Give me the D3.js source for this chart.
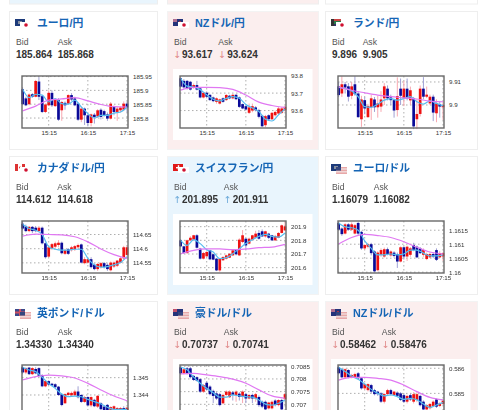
<!DOCTYPE html>
<html><head><meta charset="utf-8">
<script src="https://cdn.jsdelivr.net/npm/d3@7/dist/d3.min.js"></script>
<style>html,body{margin:0;padding:0;background:#fff;overflow:hidden}svg{display:block;filter:blur(0.3px)}
text{font-family:"Liberation Sans",Arial,sans-serif}
.title{font-family:"Liberation Sans","Noto Sans CJK JP",sans-serif;font-size:10.8px;font-weight:700;fill:#1565b5}
.lbl{font-size:8.6px;fill:#555}.val{font-size:10px;font-weight:700;fill:#333}
.tick text{font-size:6.2px;fill:#333;font-family:"Liberation Sans",Arial,sans-serif}
</style></head><body><svg id="c" width="480" height="410"></svg>
<script>
const pairs=["ユーロ/円","NZドル/円","ランド/円","カナダドル/円","スイスフラン/円","ユーロ/ドル","英ポンド/ドル","豪ドル/ドル","NZドル/ドル"];
const bids=["185.864","93.617","9.896","114.612","201.895","1.16079","1.34330","0.70737","0.58462"];
const asks=["185.868","93.624","9.905","114.618","201.911","1.16082","1.34340","0.70741","0.58476"];
const trends=["","down","","","up","","","down","down"];
const timeLabels=["15:15","16:15","17:15"];
const timeIdx=[8,20,32];
const domains=[[185.764,185.952],[93.5,93.798],[9.89,9.9126],[114.5143,114.6976],[201.561,201.9415],[1.15997,1.16183],[1.34273,1.34573],[0.7065,0.70855],[0.58406,0.58613]];
const ticks=[[185.95,185.9,185.85,185.8],[93.8,93.7,93.6],[9.91,9.9],[114.65,114.6,114.55],[201.9,201.8,201.7,201.6],[1.1615,1.161,1.1605,1.16],[1.345,1.344],[0.7085,0.708,0.7075,0.707],[0.586,0.585]];
const tickFmt=[".2~f",".1~f",".2~f",".2~f",".1~f",".4~f",".3~f",".4~f",".3~f"];
// candles: [open, close, high, low]
const c0=[[185.904,185.85,185.911,185.846],[185.871,185.846,185.877,185.843],[185.85,185.885,185.889,185.846],[185.886,185.877,185.89,185.873],[185.877,185.934,185.938,185.875],[185.932,185.877,185.948,185.865],[185.879,185.822,185.884,185.818],[185.822,185.849,185.853,185.818],[185.846,185.891,185.9,185.843],[185.891,185.846,185.9,185.84],[185.843,185.867,185.872,185.84],[185.865,185.794,185.872,185.79],[185.828,185.858,185.862,185.79],[185.855,185.846,185.86,185.83],[185.852,185.883,185.886,185.848],[185.883,185.867,185.89,185.862],[185.871,185.846,185.877,185.843],[185.852,185.794,185.857,185.79],[185.794,185.834,185.84,185.785],[185.834,185.81,185.838,185.775],[185.81,185.782,185.816,185.77],[185.782,185.813,185.816,185.77],[185.812,185.804,185.818,185.78],[185.806,185.828,185.832,185.8],[185.83,185.804,185.835,185.795],[185.825,185.81,185.83,185.805],[185.813,185.798,185.82,185.79],[185.798,185.852,185.858,185.795],[185.84,185.822,185.845,185.81],[185.822,185.834,185.84,185.79],[185.828,185.838,185.842,185.82],[185.83,185.852,185.86,185.825],[185.852,185.838,185.86,185.82]];
const c1=[[93.785,93.737,93.79,93.73],[93.77,93.733,93.78,93.725],[93.77,93.727,93.775,93.72],[93.765,93.72,93.77,93.715],[93.733,93.746,93.755,93.725],[93.746,93.72,93.77,93.715],[93.727,93.675,93.73,93.67],[93.675,93.702,93.706,93.67],[93.702,93.679,93.71,93.67],[93.69,93.66,93.695,93.655],[93.675,93.654,93.68,93.648],[93.65,93.67,93.675,93.64],[93.64,93.664,93.668,93.635],[93.67,93.65,93.675,93.645],[93.66,93.689,93.695,93.655],[93.685,93.67,93.69,93.665],[93.67,93.69,93.695,93.665],[93.69,93.665,93.695,93.66],[93.675,93.621,93.68,93.615],[93.637,93.612,93.64,93.608],[93.625,93.606,93.63,93.6],[93.587,93.618,93.64,93.58],[93.6,93.625,93.64,93.59],[93.618,93.602,93.625,93.595],[93.602,93.564,93.61,93.555],[93.57,93.51,93.575,93.505],[93.516,93.568,93.575,93.505],[93.573,93.55,93.578,93.54],[93.55,93.587,93.592,93.545],[93.573,93.592,93.6,93.565],[93.583,93.612,93.62,93.575],[93.587,93.612,93.62,93.58],[93.602,93.621,93.63,93.595]];
const c2=[[9.9081,9.9043,9.91,9.9035],[9.905,9.909,9.9125,9.9035],[9.909,9.9076,9.91,9.905],[9.9081,9.9036,9.9095,9.9015],[9.904,9.9081,9.91,9.9025],[9.909,9.9047,9.9125,9.904],[9.905,9.8947,9.906,9.8945],[9.8938,9.9024,9.904,9.8905],[9.9021,9.8985,9.9035,9.896],[9.8947,9.8996,9.9005,9.8945],[9.899,9.9029,9.9045,9.8935],[9.9024,9.899,9.9035,9.897],[9.899,9.9007,9.904,9.8945],[9.8993,9.9024,9.906,9.897],[9.9029,9.9081,9.9095,9.9],[9.9071,9.9029,9.9085,9.902],[9.9033,9.9021,9.9045,9.9],[9.9021,9.8976,9.9025,9.8945],[9.8978,9.9039,9.912,9.895],[9.9071,9.904,9.9115,9.9],[9.9029,9.9071,9.9105,9.8995],[9.9071,9.9029,9.9115,9.902],[9.902,9.9064,9.908,9.9],[9.9029,9.8907,9.9035,9.8895],[9.8938,9.8961,9.9025,9.8895],[9.8961,9.9071,9.9085,9.895],[9.9071,9.9036,9.9121,9.9025],[9.9036,9.9045,9.908,9.903],[9.9007,9.9036,9.9045,9.9],[9.9036,9.8967,9.9045,9.893],[9.8964,9.9007,9.9025,9.8925],[9.9004,9.8993,9.9015,9.8945],[9.899,9.9,9.9015,9.8935]];
const c3=[[114.688,114.671,114.695,114.665],[114.679,114.662,114.685,114.658],[114.662,114.677,114.68,114.658],[114.677,114.662,114.68,114.655],[114.674,114.662,114.68,114.658],[114.662,114.674,114.68,114.658],[114.674,114.619,114.678,114.615],[114.619,114.57,114.622,114.565],[114.572,114.605,114.608,114.568],[114.601,114.616,114.62,114.595],[114.607,114.619,114.625,114.6],[114.613,114.621,114.63,114.605],[114.621,114.584,114.625,114.58],[114.582,114.595,114.6,114.578],[114.598,114.582,114.602,114.578],[114.595,114.605,114.61,114.59],[114.598,114.609,114.613,114.592],[114.605,114.613,114.618,114.6],[114.615,114.551,114.618,114.548],[114.549,114.563,114.57,114.545],[114.551,114.563,114.568,114.548],[114.563,114.535,114.57,114.53],[114.543,114.528,114.548,114.524],[114.528,114.546,114.55,114.522],[114.535,114.549,114.553,114.53],[114.549,114.535,114.553,114.53],[114.543,114.528,114.548,114.522],[114.524,114.551,114.555,114.52],[114.537,114.551,114.555,114.532],[114.54,114.558,114.56,114.535],[114.551,114.566,114.57,114.548],[114.566,114.605,114.61,114.562],[114.578,114.605,114.612,114.575]];
const c4=[[201.8,201.756,201.81,201.75],[201.756,201.707,201.76,201.7],[201.707,201.8,201.805,201.7],[201.8,201.819,201.83,201.795],[201.805,201.837,201.84,201.8],[201.837,201.746,201.845,201.74],[201.739,201.666,201.745,201.66],[201.666,201.707,201.715,201.66],[201.683,201.715,201.72,201.68],[201.727,201.661,201.73,201.655],[201.698,201.659,201.7,201.655],[201.666,201.58,201.67,201.575],[201.58,201.666,201.67,201.57],[201.654,201.678,201.685,201.65],[201.666,201.69,201.695,201.66],[201.673,201.702,201.705,201.67],[201.69,201.727,201.73,201.685],[201.732,201.698,201.735,201.69],[201.69,201.805,201.815,201.685],[201.788,201.837,201.875,201.78],[201.812,201.763,201.815,201.73],[201.776,201.812,201.82,201.77],[201.805,201.837,201.84,201.8],[201.819,201.849,201.87,201.815],[201.854,201.812,201.875,201.805],[201.866,201.829,201.88,201.825],[201.829,201.866,201.87,201.82],[201.849,201.819,201.855,201.81],[201.837,201.8,201.84,201.795],[201.8,201.832,201.84,201.795],[201.819,201.854,201.86,201.815],[201.854,201.91,201.915,201.85],[201.873,201.902,201.94,201.87]];
const c5=[[1.16176,1.16152,1.1618,1.1615],[1.16156,1.16136,1.1616,1.1613],[1.16138,1.16171,1.16175,1.16135],[1.16171,1.16152,1.16175,1.16148],[1.16152,1.16171,1.16178,1.16148],[1.16138,1.16168,1.16172,1.16135],[1.16176,1.16138,1.1618,1.16132],[1.16144,1.16085,1.16148,1.1608],[1.16085,1.16097,1.161,1.1608],[1.16091,1.161,1.16105,1.16085],[1.161,1.16068,1.16105,1.1606],[1.16074,1.16003,1.16078,1.16],[1.16007,1.1607,1.16075,1.16003],[1.16062,1.16079,1.16085,1.16055],[1.16056,1.16082,1.16088,1.16052],[1.16082,1.16065,1.16088,1.1606],[1.1606,1.16074,1.16078,1.16055],[1.1607,1.16058,1.16075,1.16052],[1.16065,1.16038,1.1607,1.16015],[1.16038,1.16089,1.16092,1.16035],[1.16089,1.16056,1.16092,1.16045],[1.16056,1.16091,1.16095,1.1604],[1.16062,1.16085,1.1609,1.16055],[1.16097,1.16079,1.16105,1.16075],[1.16091,1.16053,1.16095,1.1605],[1.16085,1.16068,1.1609,1.16065],[1.16062,1.16079,1.16085,1.16055],[1.16047,1.16065,1.1607,1.16043],[1.16053,1.16065,1.1607,1.1605],[1.16065,1.16056,1.1607,1.1605],[1.16079,1.16044,1.16085,1.1604],[1.16053,1.16068,1.16075,1.1605],[1.16056,1.16068,1.16072,1.1604]];
const c6=[[1.3456,1.3453,1.3457,1.3452],[1.3453,1.34555,1.3456,1.3452],[1.34558,1.3452,1.3456,1.34515],[1.3452,1.34555,1.3456,1.34515],[1.3455,1.34525,1.3456,1.3452],[1.34555,1.3451,1.3456,1.34505],[1.34515,1.3445,1.3452,1.34445],[1.3445,1.3448,1.34485,1.34445],[1.3448,1.3446,1.34485,1.34455],[1.34465,1.34455,1.3447,1.3445],[1.34462,1.34445,1.34468,1.3444],[1.34448,1.344,1.34452,1.34395],[1.34405,1.34342,1.3441,1.34335],[1.34352,1.34405,1.3441,1.3435],[1.344,1.34413,1.34418,1.34395],[1.34398,1.34412,1.3442,1.3439],[1.34398,1.3442,1.3443,1.34395],[1.3442,1.34387,1.3445,1.3438],[1.344,1.3436,1.34405,1.34355],[1.3436,1.34388,1.34395,1.34355],[1.34388,1.3434,1.34392,1.34335],[1.3434,1.34388,1.34392,1.3433],[1.34372,1.34335,1.34378,1.3433],[1.34333,1.34395,1.344,1.34325],[1.34352,1.34318,1.34358,1.3431],[1.34333,1.34305,1.34338,1.343],[1.34343,1.34291,1.34348,1.34285],[1.34291,1.3433,1.34335,1.34285],[1.34315,1.34335,1.3434,1.3431],[1.34305,1.34325,1.3433,1.343],[1.3431,1.34325,1.3433,1.34305],[1.34325,1.34295,1.34335,1.3429],[1.34295,1.34327,1.3433,1.3429]];
const c7=[[0.70846,0.70822,0.7085,0.70818],[0.70822,0.70838,0.70842,0.70818],[0.70842,0.70822,0.70848,0.70818],[0.70842,0.70807,0.70848,0.70802],[0.70812,0.70796,0.70816,0.70792],[0.70807,0.70793,0.7081,0.7079],[0.70799,0.7075,0.70803,0.70745],[0.7075,0.70776,0.7078,0.70745],[0.70785,0.70759,0.7079,0.70755],[0.7077,0.7074,0.70775,0.70735],[0.70753,0.70733,0.70758,0.70705],[0.70743,0.70723,0.70748,0.70718],[0.7074,0.70697,0.70745,0.70692],[0.70704,0.70737,0.70742,0.707],[0.70737,0.7075,0.70755,0.70733],[0.70728,0.7075,0.70755,0.70725],[0.70747,0.70737,0.70752,0.70715],[0.70737,0.7075,0.70755,0.7071],[0.70742,0.70729,0.70748,0.70715],[0.70729,0.7075,0.70755,0.70705],[0.7074,0.70723,0.70745,0.70705],[0.70723,0.70737,0.7074,0.7072],[0.70737,0.70723,0.70742,0.70705],[0.70723,0.7074,0.70745,0.7071],[0.70729,0.70697,0.70735,0.7069],[0.7071,0.70691,0.70715,0.70685],[0.7071,0.7068,0.70715,0.70675],[0.70684,0.70707,0.7071,0.7068],[0.70684,0.7071,0.70715,0.7068],[0.70715,0.70697,0.7072,0.70692],[0.70697,0.70717,0.7072,0.70692],[0.70717,0.7068,0.70722,0.70675],[0.7072,0.7074,0.70745,0.70715]];
const c8=[[0.58604,0.5858,0.5861,0.58575],[0.58596,0.58564,0.586,0.5856],[0.58564,0.58596,0.586,0.5856],[0.58593,0.58564,0.58596,0.5856],[0.58564,0.58573,0.58578,0.5856],[0.58564,0.58577,0.58582,0.5856],[0.5858,0.5856,0.58585,0.58555],[0.5856,0.5852,0.58565,0.58515],[0.5852,0.58537,0.5854,0.58515],[0.58513,0.58537,0.5854,0.58508],[0.58533,0.58507,0.58538,0.585],[0.58513,0.58497,0.58518,0.58492],[0.58507,0.58497,0.5851,0.5849],[0.585,0.58467,0.58505,0.58462],[0.58467,0.58497,0.585,0.5846],[0.58497,0.58513,0.58518,0.58492],[0.58513,0.58497,0.58518,0.58492],[0.58493,0.58507,0.5851,0.5849],[0.58503,0.5849,0.58508,0.58485],[0.585,0.58474,0.58505,0.5847],[0.58493,0.58467,0.58498,0.58462],[0.58467,0.5849,0.58495,0.5846],[0.58493,0.58476,0.58498,0.5847],[0.58467,0.58497,0.58505,0.5846],[0.58474,0.58497,0.58505,0.58465],[0.5849,0.58453,0.58495,0.58448],[0.58467,0.58436,0.58472,0.5843],[0.58436,0.58453,0.58458,0.5843],[0.58441,0.58458,0.58462,0.58436],[0.5845,0.58467,0.58472,0.58445],[0.58476,0.58447,0.5848,0.58442],[0.5845,0.5846,0.58465,0.58445],[0.58458,0.58471,0.58476,0.58453]];
const candles=[c0,c1,c2,c3,c4,c5,c6,c7,c8];
// short average, one reading every 2 candles
const shortMA=[
[185.904,185.874,185.886,185.883,185.858,185.87,185.852,185.85,185.865,185.84,185.816,185.8,185.81,185.81,185.818,185.822,185.84],
[93.785,93.74,93.735,93.72,93.69,93.665,93.655,93.67,93.68,93.67,93.635,93.615,93.595,93.55,93.54,93.575,93.61],
[9.9076,9.9071,9.9061,9.9036,9.8993,9.899,9.9004,9.9021,9.9028,9.9021,9.9028,9.9036,9.9014,9.9004,9.9018,9.9007,9.8996],
[114.686,114.671,114.665,114.65,114.607,114.598,114.595,114.595,114.598,114.598,114.566,114.543,114.535,114.537,114.543,114.551,114.572],
[201.8,201.763,201.805,201.776,201.732,201.715,201.666,201.673,201.702,201.739,201.776,201.805,201.829,201.844,201.829,201.824,201.854],
[1.16176,1.16162,1.16159,1.1615,1.16112,1.16085,1.16062,1.16062,1.16065,1.16062,1.16065,1.16079,1.16079,1.16068,1.16058,1.16058,1.16062],
[1.3456,1.34544,1.34535,1.34502,1.34467,1.34438,1.34405,1.3439,1.34394,1.3439,1.34375,1.34362,1.34348,1.34329,1.34317,1.34317,1.34317],
[0.70846,0.70836,0.70807,0.70783,0.70763,0.70746,0.70728,0.70728,0.70737,0.70733,0.7073,0.70728,0.70717,0.70701,0.70697,0.70704,0.70717],
[0.58604,0.58587,0.58569,0.58556,0.58537,0.58516,0.585,0.5849,0.58494,0.58487,0.58476,0.5848,0.58474,0.58458,0.58444,0.58454,0.58463]];
// long average, one reading every 4 candles
const longMA=[
[185.826,185.843,185.865,185.869,185.874,185.862,185.849,185.841,185.84],
[93.717,93.733,93.733,93.731,93.721,93.689,93.648,93.629,93.618],
[9.9079,9.9064,9.9053,9.9043,9.9036,9.9031,9.9026,9.9017,9.9014],
[114.644,114.651,114.65,114.649,114.642,114.624,114.599,114.579,114.566],
[201.702,201.727,201.737,201.737,201.732,201.737,201.746,201.751,201.771],
[1.16101,1.16124,1.16135,1.16131,1.16124,1.16109,1.16089,1.16072,1.16065],
[1.34487,1.34506,1.34515,1.3451,1.34498,1.34467,1.34429,1.34394,1.34367],
[0.7082,0.70822,0.70816,0.70809,0.70799,0.70783,0.70757,0.70733,0.70724],
[0.58553,0.58564,0.58564,0.5856,0.58553,0.58533,0.58507,0.58484,0.58474]];

const svg=d3.select("#c");
const colX=[9,167,325],colW=[148,151,152],rowY=[11,156,301];
const cardH=138,plotW=106,plotH=52;
const bgFor=t=>t==="up"?"#e9f5fd":t==="down"?"#fbeeee":"#fff";
// previous row's bottoms
["up","down",""].forEach((t,i)=>svg.append("rect").attr("x",colX[i]+.5).attr("y",-134).attr("width",colW[i]).attr("height",138).attr("fill",bgFor(t)).attr("stroke","#eee"));
const RED="#ee1111",NAVY="#0a0a98",RW="#f8a8b0",NW="#a0a0d4";

function flag(g,i){
  const F={ // base flag painter
    eur:g=>{g.append("rect").attr("width",10).attr("height",7).attr("fill","#1c3a7a");g.append("rect").attr("x",3).attr("y",2).attr("width",4).attr("height",3).attr("fill","#8890a0");},
    nzd:g=>{g.append("rect").attr("width",10).attr("height",7).attr("fill","#24337a");g.append("rect").attr("width",4).attr("height",3).attr("fill","#b07090");g.append("circle").attr("cx",7).attr("cy",3).attr("r",1).attr("fill","#d33");},
    zar:g=>{g.append("rect").attr("width",10).attr("height",7).attr("fill","#2a7d4a");g.append("rect").attr("width",10).attr("height",2).attr("fill","#c44");g.append("rect").attr("y",5).attr("width",10).attr("height",2).attr("fill","#336");g.append("rect").attr("width",3).attr("height",7).attr("fill","#333");},
    cad:g=>{g.append("rect").attr("width",10).attr("height",7).attr("fill","#fff");g.append("rect").attr("width",3).attr("height",7).attr("fill","#d33");g.append("rect").attr("x",7).attr("width",3).attr("height",7).attr("fill","#d33");g.append("circle").attr("cx",5).attr("cy",3.5).attr("r",1).attr("fill","#d33");},
    chf:g=>{g.append("rect").attr("width",10).attr("height",7).attr("fill","#e01818");g.append("rect").attr("x",3).attr("y",3).attr("width",5).attr("height",1.4).attr("fill","#fff");g.append("rect").attr("x",4.8).attr("y",1.2).attr("width",1.4).attr("height",5).attr("fill","#fff");},
    gbp:g=>{g.append("rect").attr("width",10).attr("height",7).attr("fill","#3a4a8a");g.append("rect").attr("y",2.5).attr("width",10).attr("height",2).attr("fill","#d05060");g.append("rect").attr("x",4).attr("width",2).attr("height",7).attr("fill","#d05060");},
    aud:g=>{g.append("rect").attr("width",10).attr("height",7).attr("fill","#24337a");g.append("rect").attr("width",4).attr("height",3).attr("fill","#c0506a");g.append("circle").attr("cx",7).attr("cy",4).attr("r",.9).attr("fill","#ddd");}
  };
  const base=["eur","nzd","zar","cad","chf","eur","gbp","aud","nzd"][i];
  F[base](g.append("g"));
  const q=g.append("g").attr("transform","translate(5,3)");
  if(i<5){q.append("rect").attr("x",0).attr("y",0).attr("width",11).attr("height",6).attr("fill","#fff");q.append("circle").attr("cx",6).attr("cy",3).attr("r",1.8).attr("fill","#d01030");}
  else{q.append("rect").attr("width",11).attr("height",7).attr("fill","#e8a8a8");
    [1.4,4.2].forEach(y=>q.append("rect").attr("y",y).attr("width",11).attr("height",1.2).attr("fill","#f2e4e4"));
    q.append("rect").attr("width",5).attr("height",3.6).attr("fill","#34467e");}
}

pairs.forEach((name,i)=>{
  const cx=i%3,cy=Math.floor(i/3),t=trends[i];
  const g=svg.append("g").attr("transform",`translate(${colX[cx]},${rowY[cy]})`);
  g.append("rect").attr("x",.5).attr("y",.5).attr("width",colW[cx]).attr("height",cardH).attr("fill",bgFor(t)).attr("stroke",t?"#f3f3f3":"#eee");
  flag(g.append("g").attr("transform","translate(6,8)"),i);
  g.append("text").attr("class","title").attr("x",28).attr("y",15.7).text(name);
  // bid / ask
  const arrow=t==="up"?"↑":t==="down"?"↓":"";
  const arrowCol=t==="up"?"#6aa8d8":"#e08888";
  const shift=t?8:0;
  g.append("text").attr("class","lbl").attr("x",7).attr("y",33.6).text("Bid");
  if(t)g.append("text").attr("x",6.5).attr("y",47).attr("fill",arrowCol).style("font-family","'DejaVu Sans'").style("font-size","9.5px").text(arrow);
  const bv=g.append("text").attr("class","val").attr("x",7+shift).attr("y",47).text(bids[i]);
  const ax=7+shift+bv.node().getComputedTextLength()+5.6;
  g.append("text").attr("class","lbl").attr("x",ax).attr("y",33.6).text("Ask");
  if(t)g.append("text").attr("x",ax).attr("y",47).attr("fill",arrowCol).style("font-family","'DejaVu Sans'").style("font-size","9.5px").text(arrow);
  g.append("text").attr("class","val").attr("x",ax+shift+(t?1:0)).attr("y",47).text(asks[i]);
  // chart
  if(t)g.append("rect").attr("x",6).attr("y",58).attr("width",139.5).attr("height",71).attr("fill","#fff");
  const p=g.append("g").attr("transform",`translate(13,${i>=6?64:65})`);
  const x=d3.scaleLinear().domain([0,32]).range([0.6,105]);
  const y=d3.scaleLinear().domain(domains[i]).range([plotH,0]);
  const ox=d3.axisBottom(x).tickValues(timeIdx).tickFormat((d,k)=>timeLabels[k]).tickSize(0).tickPadding(3);
  const oy=d3.axisRight(y).tickValues(ticks[i]).tickFormat(d3.format(tickFmt[i])).tickSize(0).tickPadding(5);
  const inTicks=ticks[i].filter(v=>v>domains[i][0]&&v<domains[i][1]);
  p.append("g").selectAll("line").data(timeIdx).join("line").attr("x1",d=>x(d)).attr("x2",d=>x(d)).attr("y1",0).attr("y2",plotH).attr("stroke","#999").attr("stroke-width",.8).attr("stroke-dasharray","1.5,2.5");
  p.append("g").selectAll("line").data(inTicks).join("line").attr("x1",0).attr("x2",plotW).attr("y1",d=>y(d)).attr("y2",d=>y(d)).attr("stroke","#999").attr("stroke-width",.8).attr("stroke-dasharray","1.5,2.5");
  const data=candles[i];
  const bw=2.7;
  p.append("g").selectAll("line").data(data).join("line").attr("x1",(d,k)=>x(k)).attr("x2",(d,k)=>x(k)).attr("y1",d=>y(d[2])).attr("y2",d=>y(d[3])).attr("stroke",d=>d[1]>=d[0]?RW:NW).attr("stroke-width",1);
  p.append("g").selectAll("rect").data(data).join("rect").attr("x",(d,k)=>x(k)-bw/2).attr("width",bw).attr("y",d=>y(Math.max(d[0],d[1]))).attr("height",d=>Math.max(1,Math.abs(y(d[0])-y(d[1])))).attr("fill",d=>d[1]>=d[0]?RED:NAVY);
  const line=step=>d3.line().x((d,k)=>x(k*step)).y(d=>y(d)).curve(d3.curveMonotoneX);
  p.append("path").attr("d",line(2)(shortMA[i])).attr("fill","none").attr("stroke","#55bdf0").attr("stroke-width",1.2);
  p.append("path").attr("d",line(4)(longMA[i])).attr("fill","none").attr("stroke","#e078f2").attr("stroke-width",1.2);
  p.append("rect").attr("x",0).attr("y",0).attr("width",plotW).attr("height",plotH).attr("fill","none").attr("stroke","#6a6a6a").attr("stroke-width",1.4);
  if(cy<2){const ax1=p.append("g").attr("transform",`translate(0,${plotH})`).call(ox);ax1.select(".domain").remove();}
  const ax2=p.append("g").attr("transform",`translate(${plotW},0)`).call(oy);
  ax2.select(".domain").remove();
});
</script></body></html>
